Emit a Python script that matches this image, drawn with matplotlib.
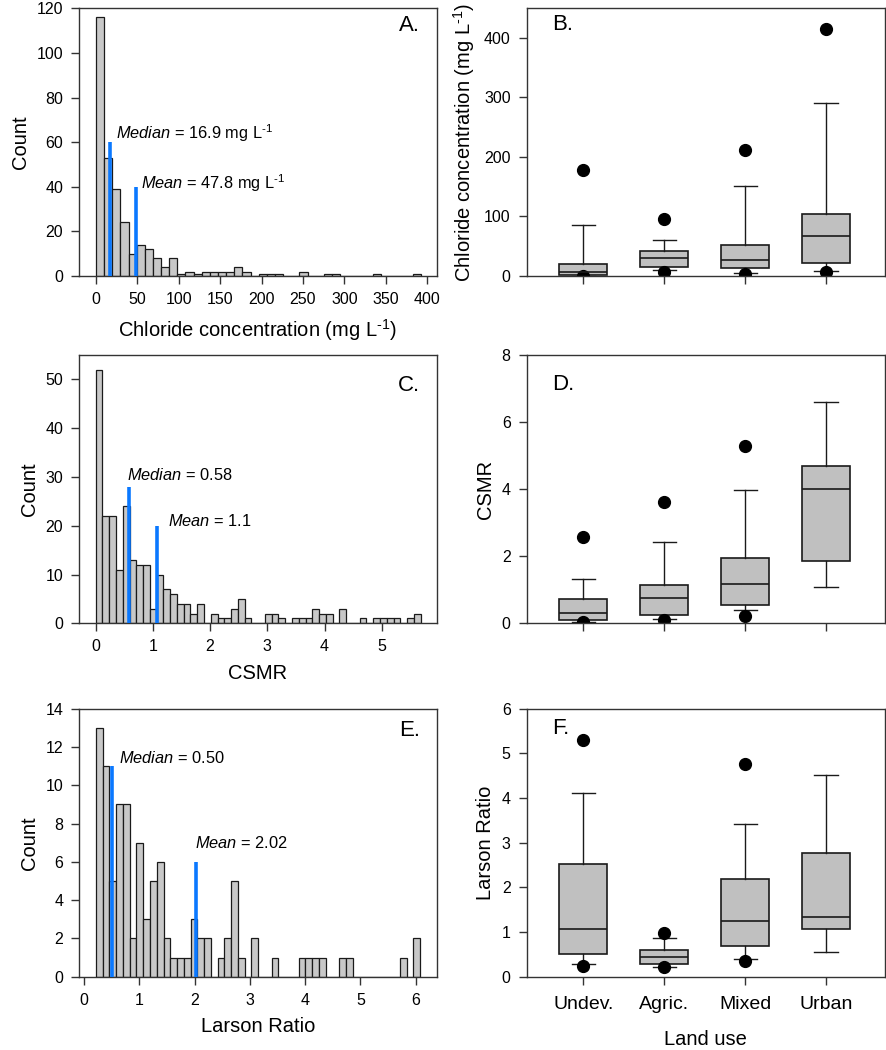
import matplotlib
matplotlib.use("Agg")
import matplotlib.pyplot as plt
import numpy as np

plt.rcParams['font.family'] = ['Liberation Sans', 'DejaVu Sans']
plt.rcParams['mathtext.fontset'] = 'custom'
plt.rcParams['mathtext.rm'] = 'Liberation Sans'
plt.rcParams['mathtext.it'] = 'Liberation Sans:italic'
plt.rcParams['mathtext.bf'] = 'Liberation Sans:bold'

# ---------------- data ----------------
# Panel A: chloride histogram (40 bins from 0, width ~9.83 mg/L)
chloride_counts = [116, 53, 39, 24, 10, 14, 12, 8, 4, 8,
                   1, 2, 1, 2, 2, 2, 2, 4, 2, 0,
                   1, 1, 1, 0, 0, 2, 0, 0, 1, 1,
                   0, 0, 0, 0, 1, 0, 0, 0, 0, 1]
chloride_median = 16.9
chloride_mean = 47.8

# Panel C: CSMR histogram (48 bins from 0, width ~0.118)
csmr_counts = [52, 22, 22, 11, 24, 13, 12, 12, 3, 10,
               7, 6, 4, 4, 2, 4, 0, 2, 1, 1,
               3, 5, 1, 0, 0, 2, 2, 1, 0, 1,
               1, 1, 3, 2, 2, 0, 3, 0, 0, 1,
               0, 1, 1, 1, 1, 0, 1, 2]
csmr_median = 0.58
csmr_mean = 1.07

# Panel E: Larson ratio histogram (48 bins from ~0.217, width ~0.122)
larson_counts = [13, 11, 5, 9, 9, 2, 7, 3, 5, 6,
                 2, 1, 1, 1, 3, 2, 2, 0, 1, 2,
                 5, 1, 0, 2, 0, 0, 1, 0, 0, 0,
                 1, 1, 1, 1, 0, 0, 1, 1, 0, 0,
                 0, 0, 0, 0, 0, 1, 0, 2]
larson_median = 0.50
larson_mean = 2.02

land_use = ["Undev.", "Agric.", "Mixed", "Urban"]

# Box plot statistics: [whislo, q1, median, q3, whishi], fliers
cl_stats = [[0.5, 2, 6, 20.7, 85.6], [9.5, 15, 30, 42, 61],
            [4.5, 13.4, 26, 52.6, 151.6], [8.4, 22.4, 66.6, 104, 290]]
cl_fliers = [[177, 0], [96, 7], [211, 4], [414, 7]]

csmr_stats = [[0.04, 0.10, 0.30, 0.72, 1.33], [0.14, 0.25, 0.75, 1.14, 2.43],
              [0.39, 0.55, 1.16, 1.95, 3.97], [1.09, 1.87, 4.00, 4.70, 6.61]]
csmr_fliers = [[2.58, 0.03], [3.62, 0.10], [5.29, 0.23], []]

lr_stats = [[0.28, 0.50, 1.06, 2.53, 4.12], [0.22, 0.28, 0.45, 0.60, 0.87],
            [0.40, 0.69, 1.25, 2.19, 3.42], [0.55, 1.07, 1.34, 2.78, 4.52]]
lr_fliers = [[5.31, 0.25], [0.97, 0.21], [4.77, 0.35], []]

# ---------------- styling ----------------
W, H = 886, 1050
fig = plt.figure(figsize=(W / 100, H / 100), dpi=100)

BAR_FC = '#c8c8c8'
BOX_FC = '#c0c0c0'
EDGE = '#1a1a1a'
BLUE = '#0a78ff'
TICK_FS = 11.5
LABEL_FS = 14.5
ANN_FS = 11.8
LETTER_FS = 16
SUP = r'$^{\text{-1}}$'


def add_ax(l, r, t, b):
    return fig.add_axes([l / W, 1 - b / H, (r - l) / W, (b - t) / H])


def style(ax):
    for s in ax.spines.values():
        s.set_color('#333333')
        s.set_linewidth(1.0)
    ax.tick_params(direction='out', length=6, width=1, color='#333333',
                   labelsize=TICK_FS, pad=5.5)


def hist_panel(ax, counts, start, width, xlim, ylim, xticks, yticks,
               med, mean, medh, meanh, medtxt, meantxt, medpos, meanpos,
               letter, letterpos, xlabel):
    counts = np.array(counts)
    edges = start + width * np.arange(len(counts))
    ax.bar(edges, counts, width=width, align='edge', color=BAR_FC,
           edgecolor=EDGE, linewidth=0.9, zorder=2)
    ax.vlines([med, mean], 0, [medh, meanh], color=BLUE, linewidth=2.6, zorder=3)
    ax.text(medpos[0], medpos[1], medtxt, fontsize=ANN_FS, ha='left', va='center')
    ax.text(meanpos[0], meanpos[1], meantxt, fontsize=ANN_FS, ha='left', va='center')
    ax.set_xlim(*xlim)
    ax.set_ylim(*ylim)
    ax.set_xticks(xticks)
    ax.set_yticks(yticks)
    ax.set_ylabel('Count', fontsize=LABEL_FS, labelpad=5)
    ax.set_xlabel(xlabel, fontsize=LABEL_FS, labelpad=7)
    ax.text(letterpos[0], letterpos[1], letter, transform=ax.transAxes,
            fontsize=LETTER_FS, ha='right', va='center')
    style(ax)


def box_panel(ax, stats, fliers, ylim, yticks, ylabel, letter, letterpos,
              show_labels=False):
    bxp_stats = []
    for (wl, q1, md, q3, wh), fl in zip(stats, fliers):
        bxp_stats.append(dict(whislo=wl, q1=q1, med=md, q3=q3, whishi=wh,
                              fliers=fl))
    pos = np.arange(1, len(stats) + 1)
    ax.bxp(bxp_stats, positions=pos, widths=0.59, patch_artist=True,
           capwidths=0.29,
           boxprops=dict(facecolor=BOX_FC, edgecolor=EDGE, linewidth=1.2),
           medianprops=dict(color=EDGE, linewidth=1.2),
           whiskerprops=dict(color=EDGE, linewidth=1.0),
           capprops=dict(color=EDGE, linewidth=1.0),
           flierprops=dict(marker='o', markerfacecolor='black',
                           markeredgecolor='black', markersize=8.5))
    ax.set_xlim(0.3, 4.72)
    ax.set_ylim(*ylim)
    ax.set_yticks(yticks)
    ax.set_xticks(pos)
    ax.set_ylabel(ylabel, fontsize=LABEL_FS, labelpad=5)
    ax.text(letterpos[0], letterpos[1], letter, transform=ax.transAxes,
            fontsize=LETTER_FS, ha='left', va='center')
    style(ax)
    if show_labels:
        ax.set_xticklabels(land_use)
        ax.tick_params(axis='x', labelsize=14, pad=8)
        ax.set_xlabel('Land use', fontsize=LABEL_FS, labelpad=12)
    else:
        ax.set_xticklabels([''] * len(pos))


# Row positions (pixels)
LEFT_L, LEFT_R = 79.3, 436.7
RIGHT_L, RIGHT_R = 526.7, 884.5
ROWS = [(8.3, 276.0), (355.0, 623.3), (708.8, 976.7)]

axA = add_ax(LEFT_L, LEFT_R, *ROWS[0])
hist_panel(axA, chloride_counts, 0.0, 9.83, (-20.2, 411.7), (0, 120),
           np.arange(0, 401, 50), np.arange(0, 121, 20),
           chloride_median, chloride_mean, 60, 40,
           r'$\it{Median}$ = 16.9 mg L' + SUP,
           r'$\it{Mean}$ = 47.8 mg L' + SUP,
           (24.0, 64.0), (54.4, 41.6), 'A.', (0.953, 0.937),
           r'Chloride concentration (mg L$^{\mathregular{\text{-1}}}$)')

axC = add_ax(LEFT_L, LEFT_R, *ROWS[1])
hist_panel(axC, csmr_counts, 0.0, 0.1183, (-0.286, 5.96), (0, 55),
           np.arange(0, 6, 1), np.arange(0, 51, 10),
           csmr_median, csmr_mean, 28, 20,
           r'$\it{Median}$ = 0.58', r'$\it{Mean}$ = 1.1',
           (0.542, 30.3), (1.259, 20.9), 'C.', (0.953, 0.888), 'CSMR')

axE = add_ax(LEFT_L, LEFT_R, *ROWS[2])
hist_panel(axE, larson_counts, 0.217, 0.1222, (-0.084, 6.38), (0, 14),
           np.arange(0, 7, 1), np.arange(0, 15, 2),
           larson_median, larson_mean, 11, 6,
           r'$\it{Median}$ = 0.50', r'$\it{Mean}$ = 2.02',
           (0.64, 11.42), (2.01, 6.97), 'E.', (0.953, 0.92), 'Larson Ratio')

axB = add_ax(RIGHT_L, RIGHT_R, *ROWS[0])
box_panel(axB, cl_stats, cl_fliers, (0, 449), np.arange(0, 401, 100),
          r'Chloride concentration (mg L' + SUP + ')', 'B.', (0.07, 0.938))

axD = add_ax(RIGHT_L, RIGHT_R, *ROWS[1])
box_panel(axD, csmr_stats, csmr_fliers, (0, 8), np.arange(0, 9, 2),
          'CSMR', 'D.', (0.07, 0.89))

axF = add_ax(RIGHT_L, RIGHT_R, *ROWS[2])
box_panel(axF, lr_stats, lr_fliers, (0, 6), np.arange(0, 7, 1),
          'Larson Ratio', 'F.', (0.07, 0.927), show_labels=True)

fig.savefig('out.png', dpi=100)
